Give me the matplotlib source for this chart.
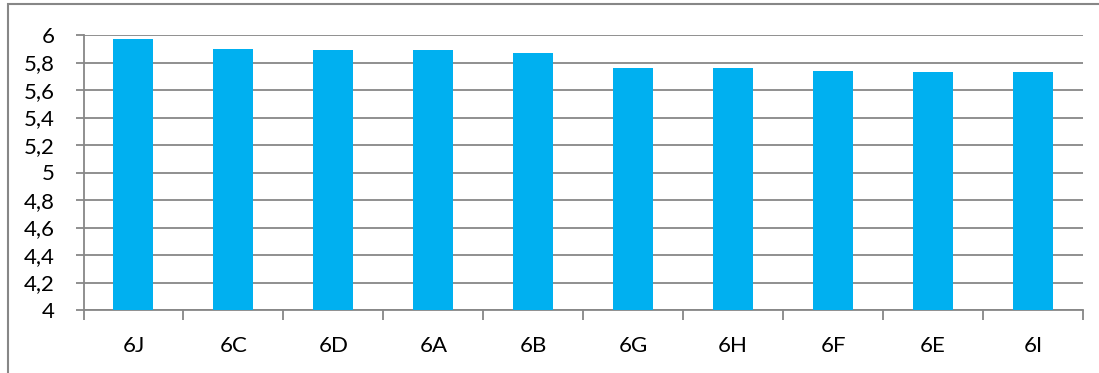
import numpy as np
import matplotlib.pyplot as plt
from matplotlib.patches import Rectangle
from matplotlib.ticker import FuncFormatter, FixedLocator

# data
classes = ['6J', '6C', '6D', '6A', '6B', '6G', '6H', '6F', '6E', '6I']
scores = [5.97, 5.90, 5.89, 5.89, 5.87, 5.76, 5.76, 5.74, 5.73, 5.73]
y_ticks = [4, 4.2, 4.4, 4.6, 4.8, 5, 5.2, 5.4, 5.6, 5.8, 6]

plt.rcParams['font.family'] = ['Lato', 'DejaVu Sans']
grey = '#878787'

fig = plt.figure(figsize=(10.99, 3.73), dpi=100)
ax = fig.add_axes([83.5 / 1099, 1 - 310 / 373, (1083 - 83.5) / 1099, (310 - 35) / 373])

x = np.arange(len(classes))
ax.bar(x, np.array(scores) - 4, bottom=4, width=0.4, color='#00B0F0', zorder=3)

ax.set_xlim(-0.5, len(classes) - 0.5)
ax.set_ylim(4, 6)
ax.set_yticks(y_ticks)
ax.yaxis.set_major_formatter(FuncFormatter(lambda v, p: ('%g' % round(v, 1)).replace('.', ',')))
ax.yaxis.grid(True, color=grey, linewidth=1.3, zorder=0)

ax.set_xticks(x)
ax.set_xticklabels(classes)
ax.xaxis.set_minor_locator(FixedLocator(np.arange(len(classes) + 1) - 0.5))
ax.tick_params(axis='x', which='major', length=0, pad=19, labelsize=16)
ax.tick_params(axis='x', which='minor', length=7, width=1.3, color=grey, direction='out')
ax.tick_params(axis='y', length=6, width=1.3, color=grey, pad=15, labelsize=16)

for s in ['top', 'right']:
    ax.spines[s].set_visible(False)
for s in ['left', 'bottom']:
    ax.spines[s].set_color(grey)
    ax.spines[s].set_linewidth(1.3)

# outer chart frame (cut off at right and bottom)
fig.patches.append(Rectangle((8 / 1099, -0.1), 1.2, 1.1 - 4.5 / 373,
                             transform=fig.transFigure, fill=False,
                             edgecolor=grey, linewidth=1.5))

fig.savefig('out.png', dpi=100)
